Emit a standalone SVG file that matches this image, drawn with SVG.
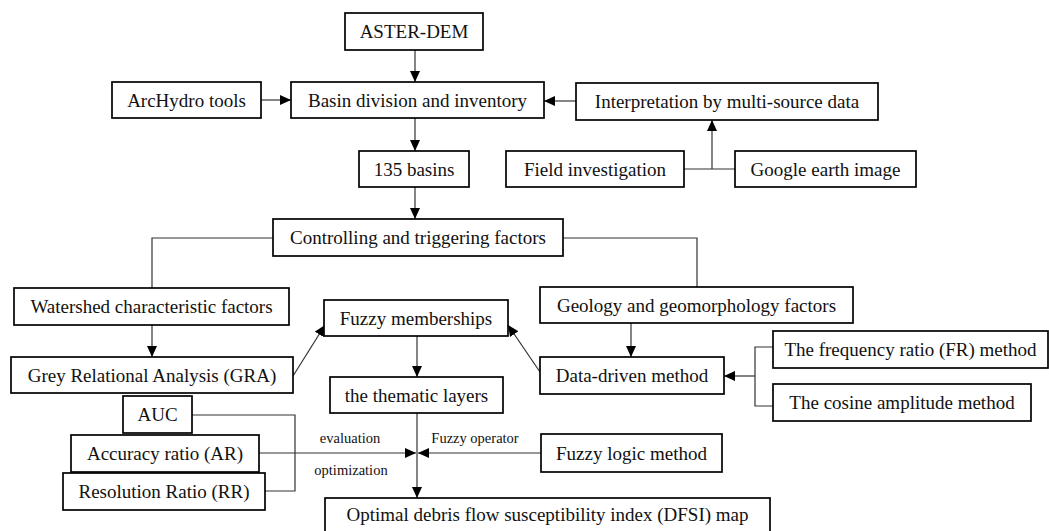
<svg xmlns="http://www.w3.org/2000/svg" width="1049" height="531" viewBox="0 0 1049 531">
<style>
.box{fill:#fff;stroke:#000;stroke-width:1.7}
.t{font-family:"Liberation Serif","Times New Roman",serif;font-size:19px;fill:#111;text-anchor:middle}
.s{font-family:"Liberation Serif","Times New Roman",serif;font-size:14.5px;fill:#111;text-anchor:middle}
.c{fill:none;stroke:#333;stroke-width:1.2}
</style>
<defs>
<marker id="ah" markerUnits="userSpaceOnUse" markerWidth="12" markerHeight="10" refX="11" refY="5" orient="auto">
<path d="M0,0 L11,5 L0,10 Z" fill="#000"/>
</marker>
</defs>
<rect width="1049" height="531" fill="#fff"/>
<g id="connectors">
<path class="c" d="M415,50 V82" marker-end="url(#ah)"/>
<path class="c" d="M261,100 H291" marker-end="url(#ah)"/>
<path class="c" d="M576,101 H544" marker-end="url(#ah)"/>
<path class="c" d="M684,169 H735 M712,169 V120" marker-end="url(#ah)"/>
<path class="c" d="M415,118 V151" marker-end="url(#ah)"/>
<path class="c" d="M415,187 V219" marker-end="url(#ah)"/>
<path class="c" d="M273,238 H152 V288"/>
<path class="c" d="M563,238 H697 V287"/>
<path class="c" d="M152,325 V357" marker-end="url(#ah)"/>
<path class="c" d="M293,376 L325,325" marker-end="url(#ah)"/>
<path class="c" d="M540,372 L508,325" marker-end="url(#ah)"/>
<path class="c" d="M417,336 V377" marker-end="url(#ah)"/>
<path class="c" d="M417,413 V498" marker-end="url(#ah)"/>
<path class="c" d="M631,323 V357" marker-end="url(#ah)"/>
<path class="c" d="M773,347 H755 V406 H773"/>
<path class="c" d="M755,376 H724" marker-end="url(#ah)"/>
<path class="c" d="M192,415 H295 V491 H265"/>
<path class="c" d="M259,453 H416" marker-end="url(#ah)"/>
<path class="c" d="M541,453 H418" marker-end="url(#ah)"/>
<text class="s" x="350" y="443">evaluation</text>
<text class="s" x="351" y="475">optimization</text>
<text class="s" x="475" y="443">Fuzzy operator</text>
</g>
<g id="aster"><rect class="box" x="345" y="13" width="138" height="37"/><text class="t" x="414" y="38">ASTER-DEM</text></g>
<g id="archydro"><rect class="box" x="112" y="82" width="149" height="36"/><text class="t" x="186.5" y="107">ArcHydro tools</text></g>
<g id="basin"><rect class="box" x="291" y="82" width="253" height="36"/><text class="t" x="417.5" y="107">Basin division and inventory</text></g>
<g id="interp"><rect class="box" x="576" y="83" width="302" height="37"/><text class="t" x="727" y="108">Interpretation by multi-source data</text></g>
<g id="basins135"><rect class="box" x="359" y="151" width="110" height="36"/><text class="t" x="414" y="176">135 basins</text></g>
<g id="field"><rect class="box" x="506" y="151" width="178" height="36"/><text class="t" x="595" y="176">Field investigation</text></g>
<g id="google"><rect class="box" x="735" y="151" width="181" height="36"/><text class="t" x="825.5" y="176">Google earth image</text></g>
<g id="controlling"><rect class="box" x="273" y="219" width="290" height="37"/><text class="t" x="418" y="244">Controlling and triggering factors</text></g>
<g id="watershed"><rect class="box" x="14" y="288" width="275" height="37"/><text class="t" x="151.5" y="313">Watershed characteristic factors</text></g>
<g id="geology"><rect class="box" x="540" y="287" width="313" height="36"/><text class="t" x="696.5" y="312">Geology and geomorphology factors</text></g>
<g id="fuzzymem"><rect class="box" x="324" y="300" width="184" height="36"/><text class="t" x="416" y="325">Fuzzy memberships</text></g>
<g id="gra"><rect class="box" x="11" y="357" width="282" height="36"/><text class="t" x="152" y="382">Grey Relational Analysis (GRA)</text></g>
<g id="datadriven"><rect class="box" x="540" y="357" width="184" height="37"/><text class="t" x="632" y="382">Data-driven method</text></g>
<g id="fr"><rect class="box" x="773" y="331" width="275" height="37"/><text class="t" x="910.5" y="356">The frequency ratio (FR) method</text></g>
<g id="cosine"><rect class="box" x="773" y="384" width="258" height="37"/><text class="t" x="902" y="409">The cosine amplitude method</text></g>
<g id="thematic"><rect class="box" x="330" y="377" width="173" height="36"/><text class="t" x="416.5" y="402">the thematic layers</text></g>
<g id="auc"><rect class="box" x="123" y="396" width="69" height="37"/><text class="t" x="157.5" y="421">AUC</text></g>
<g id="ar"><rect class="box" x="71" y="435" width="188" height="37"/><text class="t" x="165" y="460">Accuracy ratio (AR)</text></g>
<g id="fuzzylogic"><rect class="box" x="541" y="434" width="181" height="38"/><text class="t" x="631.5" y="460">Fuzzy logic method</text></g>
<g id="rr"><rect class="box" x="63" y="473" width="202" height="37"/><text class="t" x="164" y="498">Resolution Ratio (RR)</text></g>
<g id="optimal"><rect class="box" x="325" y="498" width="445" height="40"/><text class="t" x="547.5" y="521">Optimal debris flow susceptibility index (DFSI) map</text></g>
</svg>
